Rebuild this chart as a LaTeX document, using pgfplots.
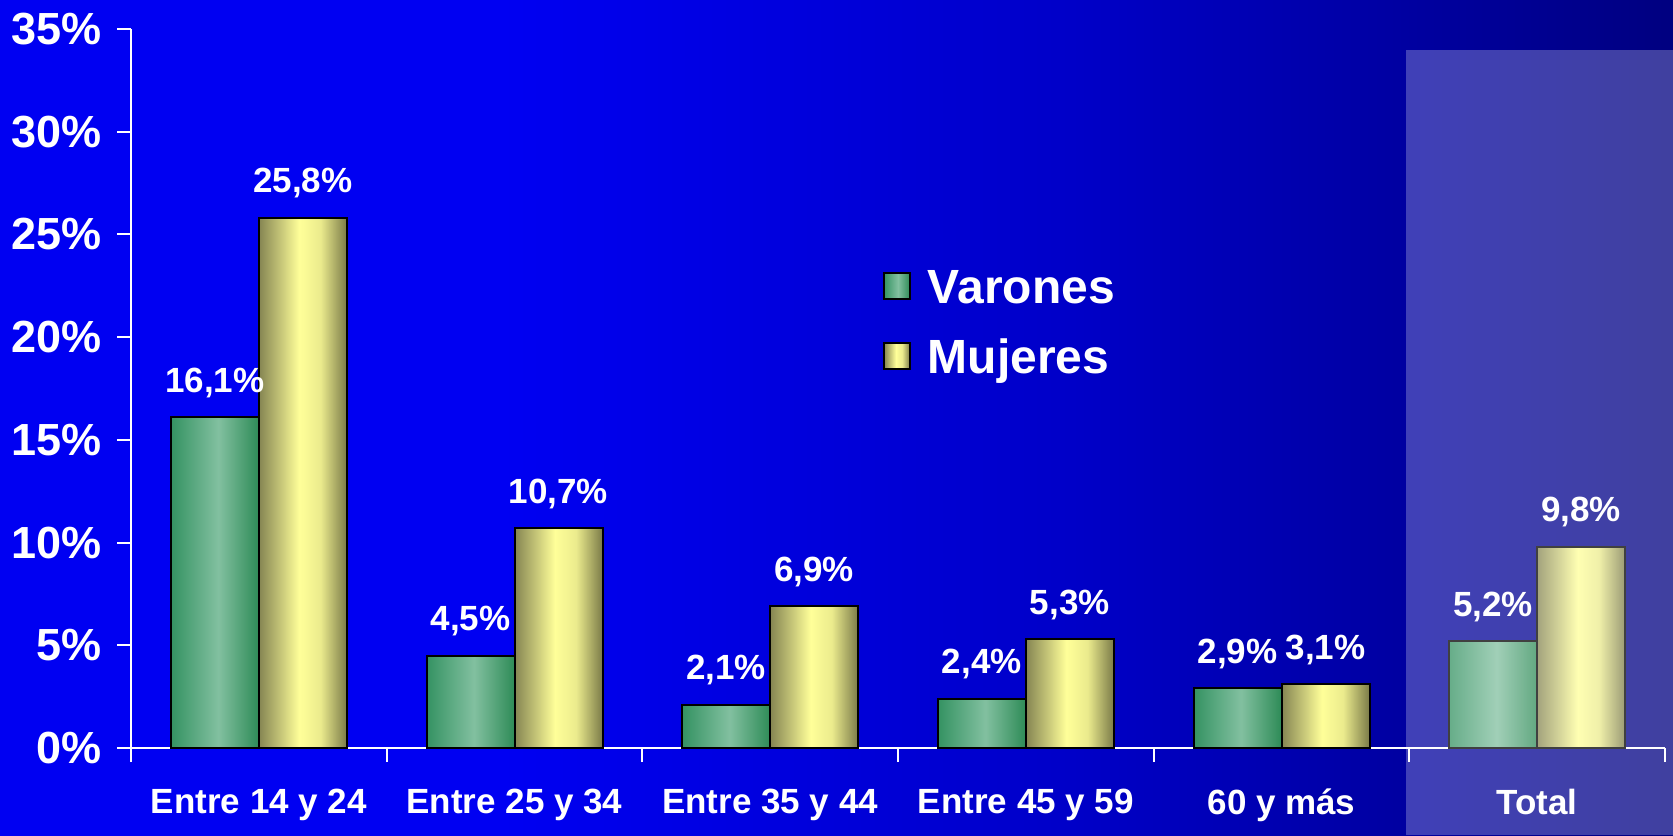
\documentclass[border=0pt]{standalone}
\usepackage{fontspec}
\setmainfont{Liberation Sans}
\usepackage{pgfplots}
\pgfplotsset{compat=1.18}
\definecolor{bgA}{RGB}{0,0,242}
\definecolor{bgB}{RGB}{0,0,200}
\definecolor{bgC}{RGB}{0,0,165}
\definecolor{bgD}{RGB}{0,0,128}
\definecolor{gL}{RGB}{52,146,98}
\definecolor{gM}{RGB}{130,192,160}
\definecolor{gR}{RGB}{46,139,87}
\definecolor{yL}{RGB}{132,132,82}
\definecolor{yM}{RGB}{255,255,153}
\definecolor{yR}{RGB}{122,122,72}
\pgfdeclarehorizontalshading{bgshade}{100bp}{color(0bp)=(bgA); color(25bp)=(bgA); color(40bp)=(bgA); color(57bp)=(bgB); color(66bp)=(bgC); color(75bp)=(bgD); color(100bp)=(bgD)}
\pgfdeclarehorizontalshading{greenbar}{100bp}{color(0bp)=(gL); color(25bp)=(gL); color(52bp)=(gM); color(75bp)=(gR); color(100bp)=(gR)}
\pgfdeclarehorizontalshading{yellowbar}{100bp}{color(0bp)=(yL); color(25bp)=(yL); color(48bp)=(yM); color(60bp)=(yM!85!yR); color(75bp)=(yR); color(100bp)=(yR)}
\pgfplotsset{
  gbar/.style={ybar, bar width=44pt, bar shift=-22pt, draw=black, line width=1pt, shade, shading=greenbar,
    every node near coord/.append style={xshift=-22pt},
    legend image code/.code={\draw[draw=black, line width=1pt, shading=greenbar] (0pt,-4.4pt) rectangle (13pt,8.6pt);}},
  ybarst/.style={ybar, bar width=44pt, bar shift=22pt, draw=black, line width=1pt, shade, shading=yellowbar,
    every node near coord/.append style={xshift=22pt},
    legend image code/.code={\draw[draw=black, line width=1pt, shading=yellowbar] (0pt,-4.4pt) rectangle (13pt,8.6pt);}},
}
\begin{document}
\begin{tikzpicture}
\shade[shading=bgshade] (0,0) rectangle (836.5pt,417.5pt);
\begin{axis}[
  at={(65.5pt,43.5pt)}, anchor=south west,
  scale only axis, width=767pt, height=359.5pt,
  xmin=-0.5, xmax=5.5, ymin=0, ymax=35,
  axis x line*=bottom, axis y line*=left,
  axis line style={white, line width=1pt},
  tick style={white, line width=1pt},
  tick align=outside, major tick length=7pt,
  /pgf/number format/assume math mode=true,
  ytick={0,5,10,15,20,25,30,35},
  yticklabel={\pgfmathprintnumber{\tick}\%},
  yticklabel style={font=\bfseries\fontsize{22.5}{24}\selectfont, text=white, xshift=-4.3pt},
  xtick={-0.5,0.5,1.5,2.5,3.5,4.5,5.5},
  x tick label as interval,
  xticklabels={Entre 14 y 24, Entre 25 y 34, Entre 35 y 44, Entre 45 y 59, 60 y más, Total},
  xticklabel style={font=\bfseries\fontsize{17.5}{20}\selectfont, text=white, yshift=-10pt},
  nodes near coords={\pgfmathprintnumber[fixed, fixed zerofill, precision=1, use comma]{\pgfplotspointmeta}\%},
  every node near coord/.append style={font=\bfseries\fontsize{17.5}{20}\selectfont, text=white, anchor=base, yshift=12.5pt, inner sep=0pt},
  legend style={draw=none, fill=none, at={(0.4902,0.6686)}, anchor=north west, inner sep=0pt, outer sep=0pt,
    font=\bfseries\fontsize{24}{26}\selectfont, text=white, row sep=12.2pt, column sep=8.5pt,
    nodes={inner sep=0pt, text height=18pt, text depth=5pt}},
  legend cell align=left,
]
\addplot[gbar] coordinates {(0,16.1)};
\addlegendentry{Varones}
\addplot[ybarst] coordinates {(0,25.8)};
\addlegendentry{Mujeres}
\addplot[gbar, forget plot] coordinates {(1,4.5)};
\addplot[ybarst, forget plot] coordinates {(1,10.7)};
\addplot[gbar, forget plot] coordinates {(2,2.1)};
\addplot[ybarst, forget plot] coordinates {(2,6.9)};
\addplot[gbar, forget plot] coordinates {(3,2.4)};
\addplot[ybarst, forget plot] coordinates {(3,5.3)};
\addplot[gbar, forget plot] coordinates {(4,2.9)};
\addplot[ybarst, forget plot] coordinates {(4,3.1)};
\addplot[gbar, forget plot] coordinates {(5,5.2)};
\addplot[ybarst, forget plot] coordinates {(5,9.8)};
\end{axis}
\fill[white, opacity=0.25] (703pt,0pt) rectangle (836.5pt,392.5pt);
\end{tikzpicture}
\end{document}
